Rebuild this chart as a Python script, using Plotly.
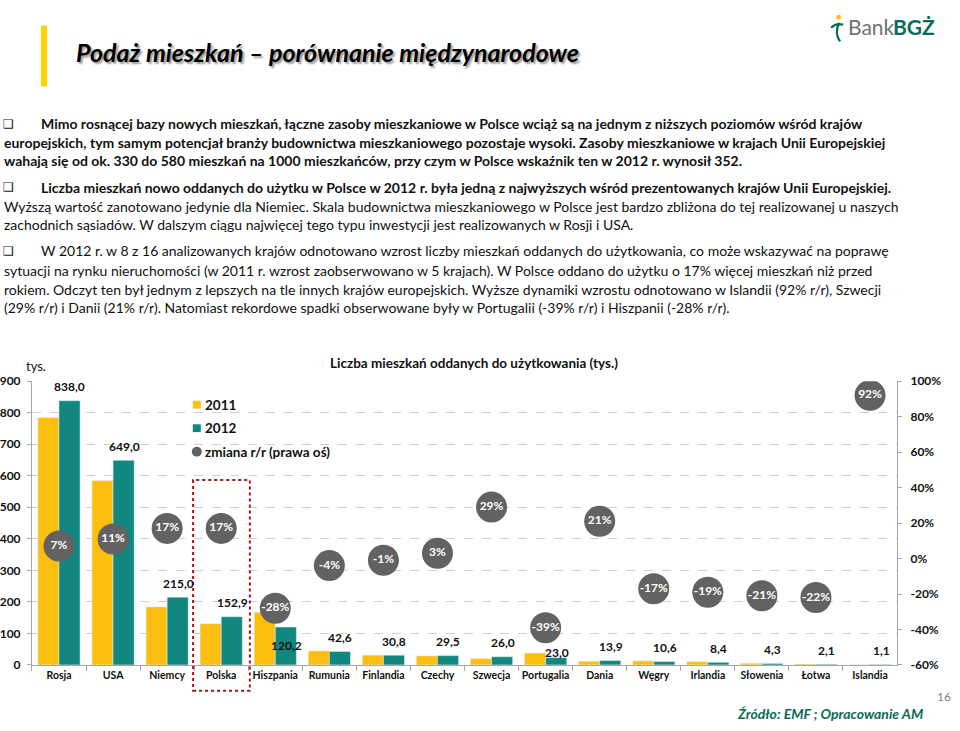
import plotly.graph_objects as go

# ---------------- data ----------------
countries = ["Rosja", "USA", "Niemcy", "Polska", "Hiszpania", "Rumunia", "Finlandia",
             "Czechy", "Szwecja", "Portugalia", "Dania", "Węgry", "Irlandia",
             "Słowenia", "Łotwa", "Islandia"]
units_2011 = [785, 585, 184, 131, 167, 44.4, 31.1, 28.6, 20.2, 37.7, 11.5, 12.8, 10.4, 5.4, 2.7, 0.6]
units_2012 = [838.0, 649.0, 215.0, 152.9, 120.2, 42.6, 30.8, 29.5, 26.0, 23.0, 13.9, 10.6, 8.4, 4.3, 2.1, 1.1]
change_pct = [7, 11, 17, 17, -28, -4, -1, 3, 29, -39, 21, -17, -19, -21, -22, 92]

left_ticks = [0, 100, 200, 300, 400, 500, 600, 700, 800, 900]
right_ticks = [-60, -40, -20, 0, 20, 40, 60, 80, 100]
right_tick_labels = [f"{v}%" for v in right_ticks]

# label vertical nudges (px) for 2012 value labels (style only)
label_dy = [14, 14, 14, 14, -18, 14, 14, 14, 14, 5, 14, 14, 14, 14, 14, 14]

# ---------------- styling ----------------
W, H = 960, 731
FONT = "Lato"
YEL = "#FDBF0F"
TEAL = "#12877F"
GREY_DOT = "#626262"
TEXT = "#111111"


def px(x):
    return x / W


def py(y):
    return 1 - y / H


fig = go.Figure()

fig.add_trace(go.Bar(name="2011", x=countries, y=units_2011, marker_color=YEL,
                     showlegend=False, hoverinfo="skip"))
fig.add_trace(go.Bar(name="2012", x=countries, y=units_2012, marker_color=TEAL,
                     showlegend=False, hoverinfo="skip"))
fig.add_trace(go.Scatter(name="zmiana r/r (prawa oś)", x=countries, y=change_pct, yaxis="y2",
                         mode="markers+text",
                         marker=dict(size=31, color=GREY_DOT, line=dict(width=0)),
                         text=[f"{v}%" for v in change_pct], textposition="middle center",
                         textfont=dict(family=FONT, size=12, color="white", weight="bold"),
                         showlegend=False, hoverinfo="skip"))

annotations = []

# 2012 value labels
for i, (c, v) in enumerate(zip(countries, units_2012)):
    annotations.append(dict(x=c, y=v, xref="x", yref="y", text=f"{v:.1f}".replace(".", ","),
                            showarrow=False, xshift=11, yshift=label_dy[i], yanchor="middle",
                            font=dict(family=FONT, size=12, color=TEXT, weight="bold")))

# chart title & unit
annotations.append(dict(x=px(473), y=py(362), xref="paper", yref="paper", showarrow=False,
                        text="<b>Liczba mieszkań oddanych do użytkowania (tys.)</b>",
                        font=dict(family=FONT, size=13.5, color=TEXT)))
annotations.append(dict(x=px(23), y=py(365), xref="paper", yref="paper", showarrow=False,
                        xanchor="left", text="tys.", font=dict(family=FONT, size=13, color=TEXT)))

# manual legend
leg_items = [("2011", 405), ("2012", 429), ("zmiana r/r (prawa oś)", 453)]
for t, yy in leg_items:
    annotations.append(dict(x=px(202), y=py(yy), xref="paper", yref="paper", showarrow=False,
                            xanchor="left", yanchor="middle", text=f"<b>{t}</b>",
                            font=dict(family=FONT, size=13.5, color=TEXT)))

# page title
annotations.append(dict(x=px(73), y=py(45), xref="paper", yref="paper", showarrow=False,
                        xanchor="left", yanchor="middle",
                        text="<b><i>Podaż mieszkań – porównanie międzynarodowe</i></b>",
                        font=dict(family=FONT, size=25, color="black", shadow="2px 2px 2px #999999")))

# logo
annotations.append(dict(x=px(846), y=py(19), xref="paper", yref="paper", showarrow=False,
                        xanchor="left", yanchor="middle", text="Bank",
                        font=dict(family=FONT, size=21, color="#707173")))
annotations.append(dict(x=px(891), y=py(19), xref="paper", yref="paper", showarrow=False,
                        xanchor="left", yanchor="middle", text="<b>BGŻ</b>",
                        font=dict(family=FONT, size=21, color="#0B6B57")))

# paragraphs
lines = [
    (118, 38, True, "Mimo rosnącej bazy nowych mieszkań, łączne zasoby mieszkaniowe w Polsce wciąż są na jednym z niższych poziomów wśród krajów"),
    (137, 1, True, "europejskich, tym samym potencjał branży budownictwa mieszkaniowego pozostaje wysoki. Zasoby mieszkaniowe w krajach Unii Europejskiej"),
    (156, 1, True, "wahają się od ok. 330 do 580 mieszkań na 1000 mieszkańców, przy czym w Polsce wskaźnik ten w 2012 r. wynosił 352."),
    (183, 38, True, "Liczba mieszkań nowo oddanych do użytku w Polsce w 2012 r. była jedną z najwyższych wśród prezentowanych krajów Unii Europejskiej."),
    (203, 1, False, "Wyższą wartość zanotowano jedynie dla Niemiec. Skala budownictwa mieszkaniowego w Polsce jest bardzo zbliżona do tej realizowanej u naszych"),
    (221, 1, False, "zachodnich sąsiadów. W dalszym ciągu najwięcej tego typu inwestycji jest realizowanych w Rosji i USA."),
    (248, 38, False, "W 2012 r. w 8 z 16 analizowanych krajów odnotowano wzrost liczby mieszkań oddanych do użytkowania, co może wskazywać na poprawę"),
    (268, 1, False, "sytuacji na rynku nieruchomości (w 2011 r. wzrost zaobserwowano w 5 krajach). W Polsce oddano do użytku o 17% więcej mieszkań niż przed"),
    (287, 1, False, "rokiem. Odczyt ten był jednym z lepszych na tle innych krajów europejskich. Wyższe dynamiki wzrostu odnotowano w Islandii (92% r/r), Szwecji"),
    (306, 1, False, "(29% r/r) i Danii (21% r/r). Natomiast rekordowe spadki obserwowane były w Portugalii (-39% r/r) i Hiszpanii (-28% r/r)."),
]
for yy, xx, bold, t in lines:
    annotations.append(dict(x=px(xx), y=py(yy), xref="paper", yref="paper", showarrow=False,
                            xanchor="left", yanchor="middle",
                            text=(f"<b>{t}</b>" if bold else t),
                            font=dict(family=FONT, size=14, color=TEXT)))
for yy in (118, 183, 248):
    annotations.append(dict(x=px(8), y=py(yy), xref="paper", yref="paper", showarrow=False,
                            xanchor="center", yanchor="middle", text="❑",
                            font=dict(family="DejaVu Sans", size=12, color=TEXT)))

# source & page number
annotations.append(dict(x=px(925), y=py(720), xref="paper", yref="paper", showarrow=False,
                        xanchor="right", yanchor="middle",
                        text="<b><i>Źródło: EMF ; Opracowanie AM</i></b>",
                        font=dict(family=FONT, size=14, color="#0B6B57")))
annotations.append(dict(x=px(944), y=py(703), xref="paper", yref="paper", showarrow=False,
                        xanchor="center", yanchor="middle", text="16",
                        font=dict(family=FONT, size=12, color="#7F7F7F")))

shapes = [
    # yellow header bar
    dict(type="rect", xref="paper", yref="paper", x0=px(40), x1=px(46), y0=py(80), y1=py(18),
         fillcolor="#FFD200", line=dict(width=0)),
    # logo mark
    dict(type="circle", xref="paper", yref="paper", x0=px(836), x1=px(841), y0=py(12), y1=py(7),
         fillcolor="#FDBF0F", line=dict(width=0)),
    dict(type="path", xref="paper", yref="paper",
         path=f"M {px(831)} {py(20)} Q {px(836)} {py(15)} {px(843)} {py(17)} "
              f"M {px(839)} {py(15)} Q {px(834)} {py(26)} {px(840)} {py(34)}",
         line=dict(color="#0B6B57", width=2.2)),
    # legend symbols
    dict(type="rect", xref="paper", yref="paper", x0=px(192), x1=px(200), y0=py(409), y1=py(401),
         fillcolor=YEL, line=dict(width=0)),
    dict(type="rect", xref="paper", yref="paper", x0=px(192), x1=px(200), y0=py(433), y1=py(425),
         fillcolor=TEAL, line=dict(width=0)),
    dict(type="circle", xref="paper", yref="paper", x0=px(191), x1=px(201), y0=py(458), y1=py(448),
         fillcolor=GREY_DOT, line=dict(width=0)),
    # red dotted frame around Polska
    dict(type="rect", xref="x", yref="paper", x0=2.48, x1=3.53, y0=py(697), y1=py(482),
         line=dict(color="#B0121B", width=2, dash="dot"), fillcolor="rgba(0,0,0,0)", layer="above"),
]

fig.update_layout(
    width=W, height=H, margin=dict(l=0, r=0, t=0, b=0),
    paper_bgcolor="white", plot_bgcolor="white",
    font=dict(family=FONT, color=TEXT),
    barmode="group", bargap=0.22, bargroupgap=0.0,
    showlegend=False,
    xaxis=dict(domain=[px(31), px(897)], range=[-0.5, len(countries) - 0.5],
               showline=True, linecolor="#A6A6A6", linewidth=1,
               ticks="outside", ticklen=5, tickcolor="#A6A6A6", tickson="boundaries",
               tickangle=0,
               tickfont=dict(family=FONT, size=10.5, color=TEXT, weight="bold"),
               showgrid=False, fixedrange=True),
    yaxis=dict(domain=[py(670.7), py(381)], range=[0, 900], tickvals=left_ticks,
               showline=True, linecolor="#A6A6A6", linewidth=1, ticks="outside", ticklen=4,
               tickcolor="#A6A6A6", ticklabelstandoff=4,
               tickfont=dict(family=FONT, size=12, color=TEXT, weight="bold"),
               showgrid=True, gridcolor="#D0D0D0", griddash="dash", gridwidth=1,
               zeroline=False),
    yaxis2=dict(overlaying="y", side="right", range=[-60, 100], tickvals=right_ticks,
                ticktext=right_tick_labels, showline=True, linecolor="#A6A6A6", linewidth=1,
                ticks="outside", ticklen=4, tickcolor="#A6A6A6", ticklabelstandoff=6,
                tickfont=dict(family=FONT, size=12, color=TEXT, weight="bold"),
                showgrid=False, zeroline=False),
    annotations=annotations,
    shapes=shapes,
)

fig.write_html("out.html", config={"displayModeBar": False},
               post_script="document.body.style.margin='0';")
